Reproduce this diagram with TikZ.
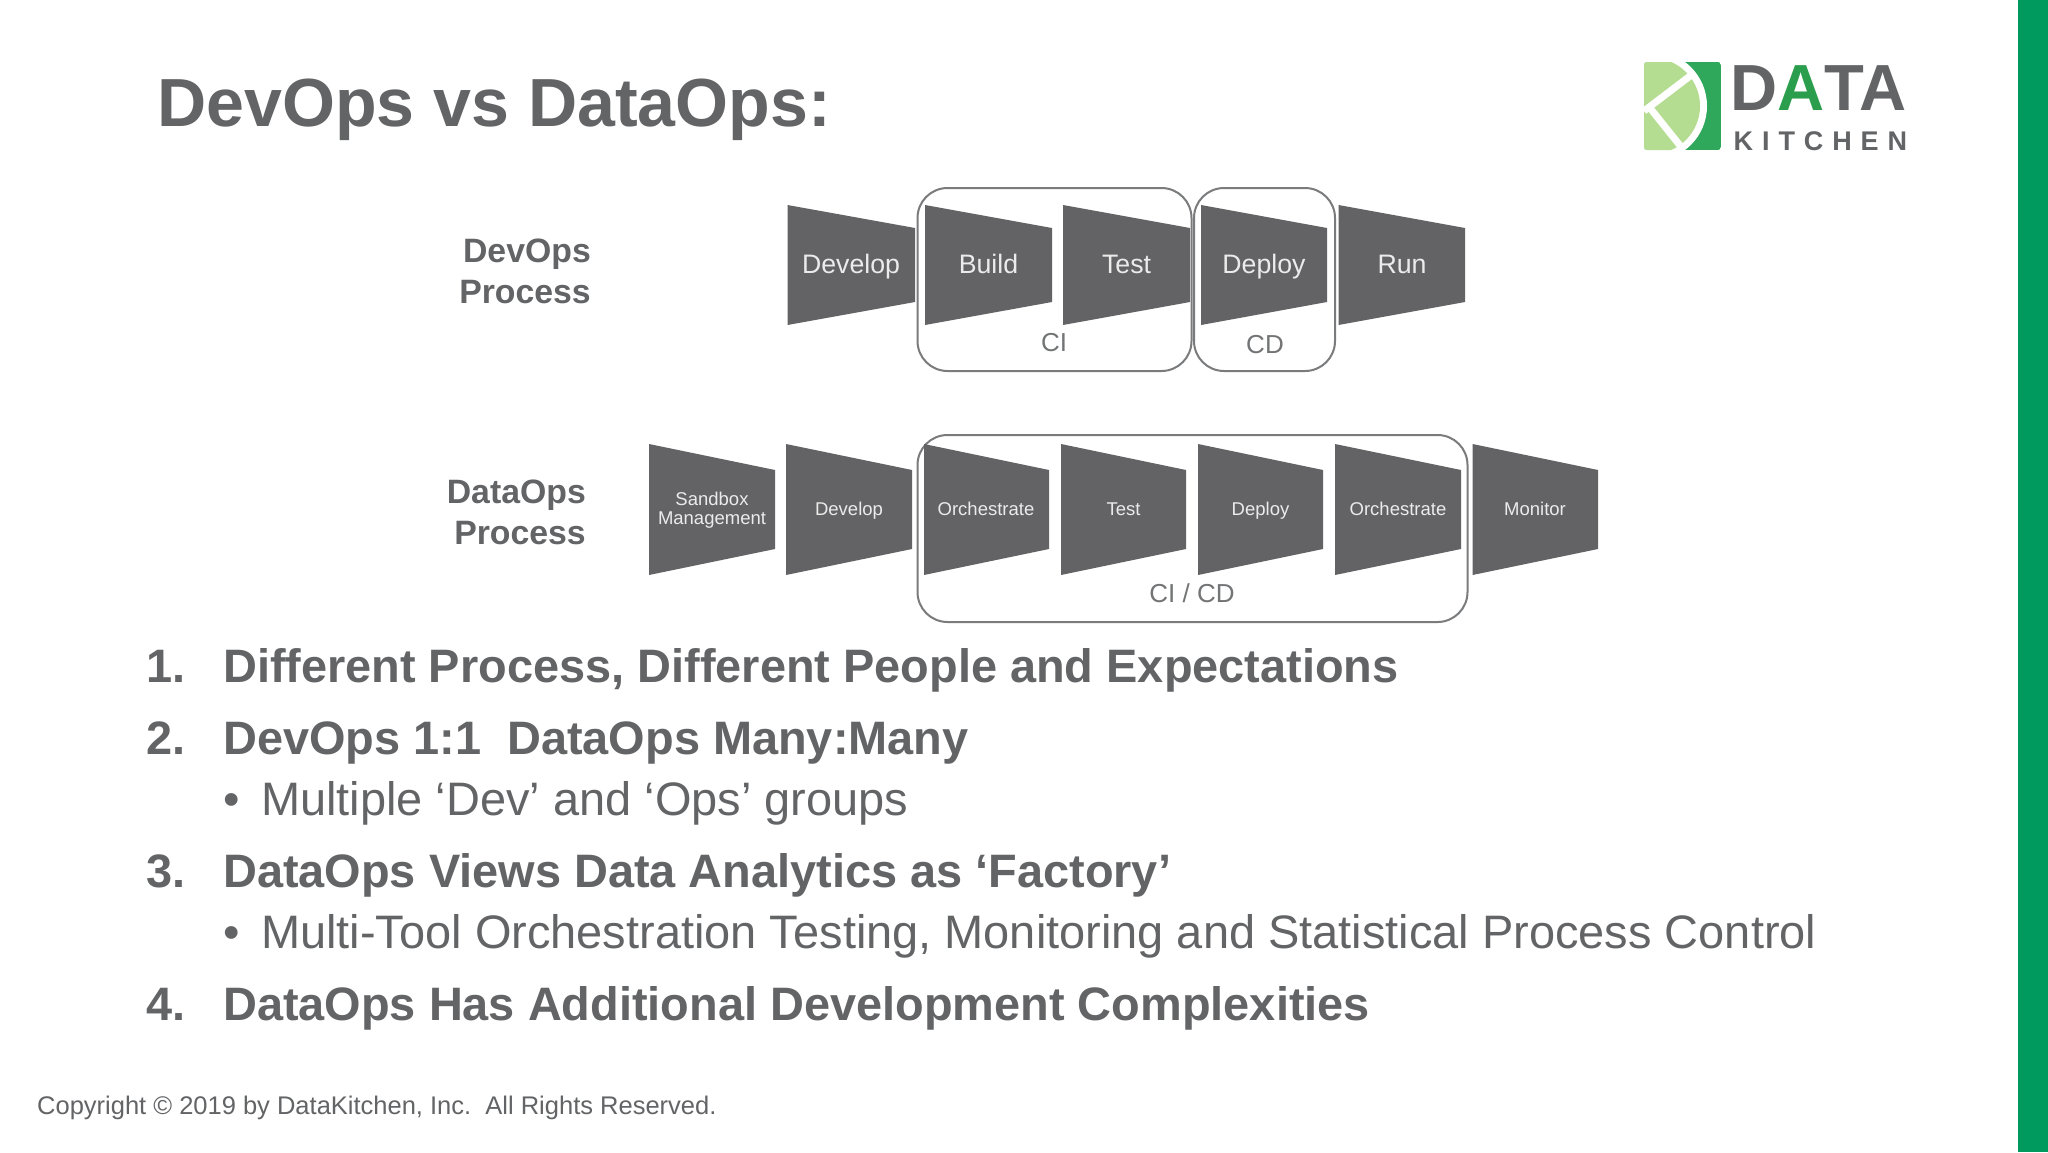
\documentclass[tikz,border=0pt]{standalone}
\usepackage{fontspec}
\setmainfont{Liberation Sans}
\definecolor{ink}{HTML}{636466}
\definecolor{stepgray}{HTML}{636365}
\definecolor{barGreen}{HTML}{009A5E}
\definecolor{logoDark}{HTML}{2FA85C}
\definecolor{logoLight}{HTML}{B4DD91}
\definecolor{logoA}{HTML}{2A9E4C}
\tikzset{
  x=1pt,y=-1pt,
  stepfill/.style={fill=stepgray},
  steplabel/.style={text=white!92!black,anchor=base,inner sep=0pt,font=\fontsize{#1}{#1}\selectfont},
  groupbox/.style={draw=ink!85!white,line width=2pt,rounded corners=30pt},
  grouplabel/.style={text=ink!90!white,inner sep=0pt,font=\fontsize{26}{26}\selectfont},
  rowlabel/.style={text=ink,anchor=base east,inner sep=0pt,font=\fontsize{33.8}{33.8}\selectfont\bfseries},
  itemtext/.style={text=ink,anchor=base west,inner sep=0pt,font=\fontsize{46.9}{46.9}\selectfont\bfseries},
  subtext/.style={text=ink,anchor=base west,inner sep=0pt,font=\fontsize{46.95}{46.95}\selectfont},
}
% x-left, x-right, y-top-left, y-top-right, y-bottom-right, y-bottom-left
\newcommand{\funnelshape}[6]{\fill[stepfill] (#1,#3) -- (#2,#4) -- (#2,#5) -- (#1,#6) -- cycle;}
\begin{document}
\begin{tikzpicture}
\useasboundingbox (0,0) rectangle (2048,1152);
\fill[white] (0,0) rectangle (2048,1152);
\fill[barGreen] (2018,0) rectangle (2048,1152);
% title
\node[text=ink,anchor=base west,inner sep=0pt,font=\fontsize{68.1}{68.1}\selectfont\bfseries] (title) at (157,126.5) {DevOps vs DataOps:};
% logo
\begin{scope}
\clip[rounded corners=3pt] (1644,62) rectangle (1721,150);
\fill[logoDark] (1644,62) rectangle (1721,150);
\fill[white] (1652,106) circle (55);
\fill[logoLight] (1652,106) circle (48);
\fill[white] (1640,62) rectangle (1644,150);
\draw[white,line width=7pt] (1644,111) -- (1694,73);
\draw[white,line width=7pt] (1650,108) -- (1682,148);
\end{scope}
\node[text=ink,anchor=base west,inner sep=0pt,font=\fontsize{65.2}{65.2}\selectfont\bfseries] (logoword) at (1730,110) {D\textcolor{logoA}{A}TA};
\node[text=ink,anchor=base west,inner sep=0pt,font=\fontsize{27}{27}\selectfont\bfseries\addfontfeature{LetterSpace=33}] (logosub) at (1733.5,150) {KITCHEN};
% row labels
\node[rowlabel] (devA) at (591,262) {DevOps};
\node[rowlabel] (devB) at (591,303) {Process};
\node[rowlabel] (dataA) at (586,503) {DataOps};
\node[rowlabel] (dataB) at (586,544) {Process};
% group boxes
\draw[groupbox] (917.5,188) rectangle (1191.5,371);
\draw[groupbox] (1194,188) rectangle (1335,371);
\draw[groupbox] (917.5,435) rectangle (1467.5,622);
% top row
\funnelshape{787.5}{915}{205}{228}{302}{325}
\funnelshape{925}{1052}{205}{228}{302}{325}
\funnelshape{1063}{1190}{205}{228}{302}{325}
\funnelshape{1201}{1327}{205}{228}{302}{325}
\funnelshape{1338.5}{1465}{205}{228}{302}{325}
\node[steplabel=26.7] (s1) at (851,273.5) {Develop};
\node[steplabel=26.7] (s2) at (988.5,273.5) {Build};
\node[steplabel=26.7] (s3) at (1126.5,273.5) {Test};
\node[steplabel=26.7] (s4) at (1264,273.5) {Deploy};
\node[steplabel=26.7] (s5) at (1402,273.5) {Run};
\node[grouplabel] (ci) at (1054,343) {CI};
\node[grouplabel] (cd) at (1265,345) {CD};
% bottom row
\funnelshape{649}{775}{444}{470}{549}{575}
\funnelshape{786}{912}{444}{470}{549}{575}
\funnelshape{924}{1049}{444}{470}{549}{575}
\funnelshape{1061}{1186}{444}{470}{549}{575}
\funnelshape{1198}{1323}{444}{470}{549}{575}
\funnelshape{1335}{1461}{444}{470}{549}{575}
\funnelshape{1472.5}{1598}{444}{470}{549}{575}
\node[steplabel=18.5] (t1a) at (712,505.5) {Sandbox};
\node[steplabel=18.5] (t1b) at (712,524) {Management};
\node[steplabel=18.5] (t2) at (849,515.5) {Develop};
\node[steplabel=18.5] (t3) at (986,515.5) {Orchestrate};
\node[steplabel=18.5] (t4) at (1123.5,515.5) {Test};
\node[steplabel=18.5] (t5) at (1260.5,515.5) {Deploy};
\node[steplabel=18.5] (t6) at (1398,515.5) {Orchestrate};
\node[steplabel=18.5] (t7) at (1535,515.5) {Monitor};
\node[grouplabel] (cicd) at (1192,593) {CI / CD};
% list
\node[itemtext] (n1) at (146,682) {1.};
\node[itemtext] (i1) at (223,682) {Different Process, Different People and Expectations};
\node[itemtext] (n2) at (146,754) {2.};
\node[itemtext] (i2) at (223,754) {DevOps 1:1\ \ DataOps Many:Many};
\node[subtext] (b2) at (223,815) {•};
\node[subtext] (i2a) at (261,815) {Multiple ‘Dev’ and ‘Ops’ groups};
\node[itemtext] (n3) at (146,887) {3.};
\node[itemtext] (i3) at (223,887) {DataOps Views Data Analytics as ‘Factory’};
\node[subtext] (b3) at (223,948) {•};
\node[subtext] (i3a) at (261,948) {Multi-Tool Orchestration Testing, Monitoring and Statistical Process Control};
\node[itemtext] (n4) at (146,1020) {4.};
\node[itemtext] (i4) at (223,1020) {DataOps Has Additional Development Complexities};
% footer
\node[text=ink,anchor=base west,inner sep=0pt,font=\fontsize{25.5}{25.5}\selectfont] (foot) at (37,1114) {Copyright © 2019 by DataKitchen, Inc.\ \ All Rights Reserved.};
\end{tikzpicture}
\end{document}
